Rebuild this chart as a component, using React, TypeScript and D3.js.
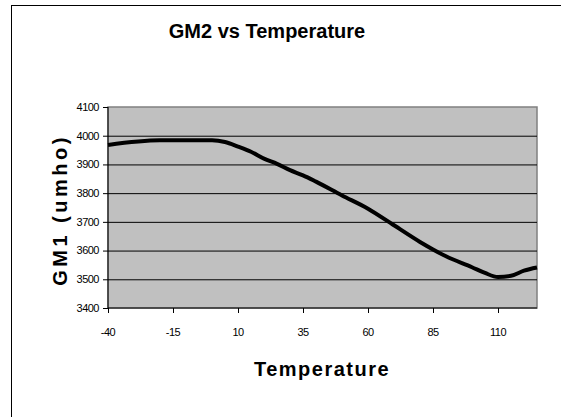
import React from "react"
import * as d3 from "d3"

// temperature (°C) vs GM (umho)
const temps = [-40, -20, 0, 5, 10, 15, 20, 25, 30, 35, 40, 50, 60, 70, 80, 85, 90, 100, 105, 110, 115, 120, 125]
const gm = [3968, 3984, 3984, 3978, 3962, 3944, 3920, 3902, 3880, 3862, 3840, 3792, 3746, 3688, 3630, 3604, 3580, 3542, 3522, 3508, 3512, 3530, 3541]

const xTicks = [-40, -15, 10, 35, 60, 85, 110]
const yTicks = [3400, 3500, 3600, 3700, 3800, 3900, 4000, 4100]

const W = 561
const H = 417
const plot = { left: 108, top: 107, right: 537, bottom: 308 }

export default function App() {
  const x = d3.scaleLinear().domain([-40, 125]).range([plot.left, plot.right])
  const y = d3.scaleLinear().domain([3400, 4100]).range([plot.bottom, plot.top])

  const line = d3
    .line<number>()
    .x((_, i) => x(temps[i]))
    .y((d) => y(d))
    .curve(d3.curveMonotoneX)

  const font = "'Liberation Sans', Arial, sans-serif"

  return (
    <svg
      width={W}
      height={H}
      style={{ position: "absolute", left: 0, top: 0, background: "#fff" }}
      fontFamily={font}
    >
      {/* chart frame */}
      <rect x={11.5} y={5.5} width={560} height={420} fill="#fff" stroke="#000" strokeWidth={1} />

      <text x={267} y={38} textAnchor="middle" fontSize={20} fontWeight="bold">
        GM2 vs Temperature
      </text>

      {/* plot area */}
      <rect
        x={plot.left}
        y={plot.top}
        width={plot.right - plot.left}
        height={plot.bottom - plot.top}
        fill="#c0c0c0"
        stroke="#808080"
        strokeWidth={1.5}
      />

      {yTicks.slice(1, -1).map((t) => (
        <line key={t} x1={plot.left} x2={plot.right} y1={y(t) + 0.5} y2={y(t) + 0.5} stroke="#000" strokeWidth={1} />
      ))}

      <path d={line(gm) ?? ""} fill="none" stroke="#000" strokeWidth={4} strokeLinejoin="round" />

      {/* axes */}
      <line x1={plot.left} x2={plot.left} y1={plot.top} y2={plot.bottom} stroke="#000" strokeWidth={1} />
      <line x1={plot.left} x2={plot.right} y1={plot.bottom} y2={plot.bottom} stroke="#000" strokeWidth={1} />

      {yTicks.map((t) => (
        <g key={t}>
          <line x1={plot.left - 5} x2={plot.left} y1={y(t) + 0.5} y2={y(t) + 0.5} stroke="#000" />
          <text x={plot.left - 9} y={y(t)} dy="0.35em" textAnchor="end" fontSize={11} letterSpacing={-0.5}>
            {t}
          </text>
        </g>
      ))}

      {xTicks.map((t) => (
        <g key={t}>
          <line x1={x(t) + 0.5} x2={x(t) + 0.5} y1={plot.bottom} y2={plot.bottom + 5} stroke="#000" />
          <text x={x(t)} y={336} textAnchor="middle" fontSize={11} letterSpacing={-0.5}>
            {t}
          </text>
        </g>
      ))}

      <text x={322} y={376} textAnchor="middle" fontSize={20} fontWeight="bold" letterSpacing={1.5}>
        Temperature
      </text>

      <text
        transform="translate(67,210) rotate(-90)"
        textAnchor="middle"
        fontSize={20}
        fontWeight="bold"
        letterSpacing={3.5}
      >
        GM1 (umho)
      </text>
    </svg>
  )
}
